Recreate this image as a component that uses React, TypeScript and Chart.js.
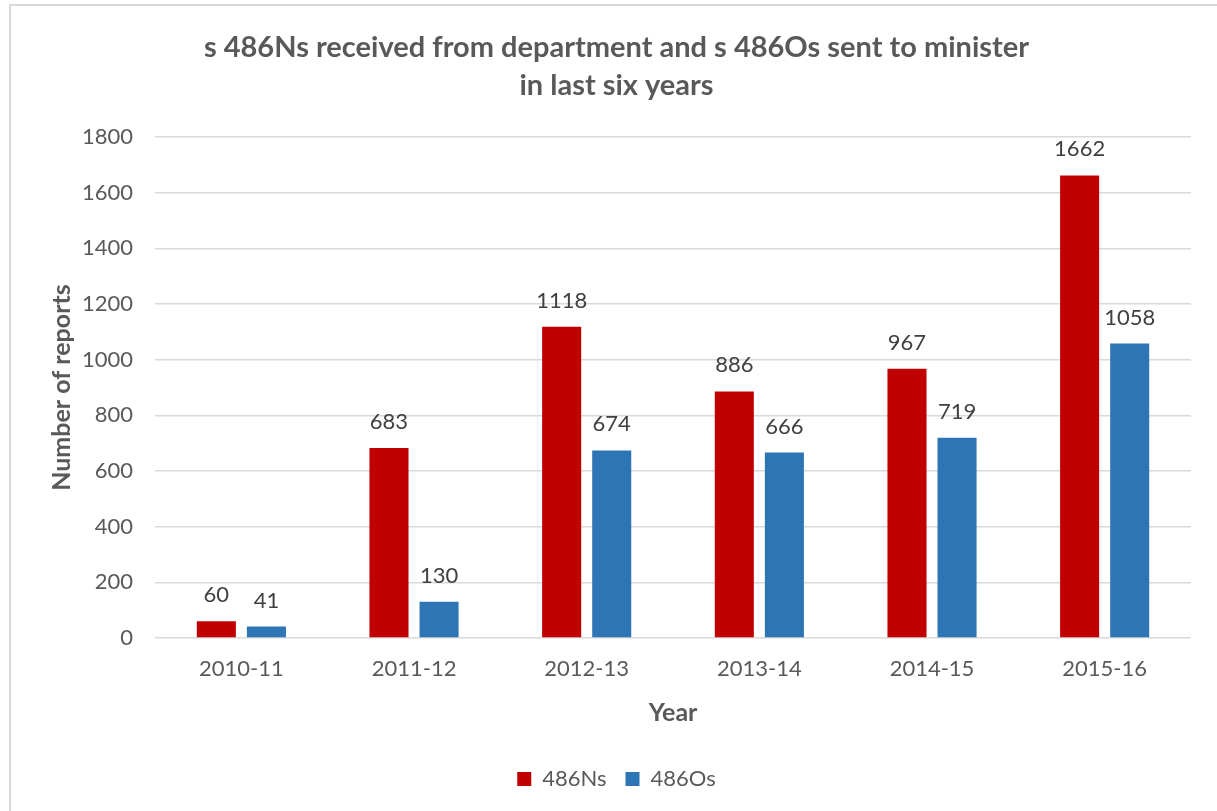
import React, { useEffect, useRef } from "react";
import { Chart, registerables } from "chart.js";

Chart.register(...registerables);

const categories = ["2010-11", "2011-12", "2012-13", "2013-14", "2014-15", "2015-16"];
const series486Ns = [60, 683, 1118, 886, 967, 1662];
const series486Os = [41, 130, 674, 666, 719, 1058];
const titleLines = ["s 486Ns received from department and s 486Os sent to minister", "in last six years"];

const FONT = "Lato, 'Open Sans', sans-serif";
const TEXT = "#595959";

const dataLabels = {
  id: "dataLabels",
  afterDatasetsDraw(chart: any) {
    const ctx = chart.ctx;
    ctx.save();
    ctx.font = `22px ${FONT}`;
    ctx.fillStyle = "#404040";
    ctx.textAlign = "center";
    ctx.textBaseline = "middle";
    chart.data.datasets.forEach((ds: any, i: number) => {
      const meta = chart.getDatasetMeta(i);
      meta.data.forEach((el: any, j: number) => {
        ctx.fillText(String(ds.data[j]), el.x, el.y - 26);
      });
    });
    ctx.restore();
  },
};

export default function App() {
  const ref = useRef<HTMLCanvasElement | null>(null);
  useEffect(() => {
    if (!ref.current) return;
    const chart = new Chart(ref.current, {
      type: "bar",
      data: {
        labels: categories,
        datasets: [
          { label: "486Ns", data: series486Ns, backgroundColor: "#C00000", categoryPercentage: 0.58, barPercentage: 0.78 },
          { label: "486Os", data: series486Os, backgroundColor: "#2E75B6", categoryPercentage: 0.58, barPercentage: 0.78 },
        ],
      },
      options: {
        responsive: false,
        animation: false,
        devicePixelRatio: 1,
        layout: { padding: { left: 31, right: 30, top: 0, bottom: 12 } },
        plugins: {
          title: {
            display: true,
            text: titleLines,
            color: TEXT,
            font: { family: FONT, size: 29, weight: "bold", lineHeight: 1.31 },
            padding: { top: 23, bottom: 32 },
          },
          legend: {
            position: "bottom",
            labels: {
              color: TEXT,
              font: { family: FONT, size: 22 },
              boxWidth: 14,
              boxHeight: 14,
              padding: 19,
            },
          },
          tooltip: { enabled: false },
        },
        scales: {
          x: {
            grid: { display: false, drawTicks: false },
            border: { display: false },
            ticks: { color: TEXT, font: { family: FONT, size: 22, lineHeight: 1 }, padding: 20 },
            title: { display: true, text: "Year", color: TEXT, font: { family: FONT, size: 25, weight: "bold", lineHeight: 1 }, padding: { top: 0, bottom: 24 } },
          },
          y: {
            min: 0,
            max: 1800,
            ticks: { stepSize: 200, color: TEXT, font: { family: FONT, size: 22 }, padding: 22, callback: (v: any) => String(v) },
            grid: { color: "#D9D9D9", lineWidth: 1.5, drawTicks: false },
            border: { display: false },
            title: { display: true, text: "Number of reports", color: TEXT, font: { family: FONT, size: 25, weight: "bold", lineHeight: 1 }, padding: { top: 7, bottom: -14 } },
          },
        },
      },
      plugins: [dataLabels],
    });
    return () => chart.destroy();
  }, []);

  return (
    <div style={{ position: "fixed", left: 0, top: 0, width: 1217, height: 811, overflow: "hidden", background: "#fff" }}>
      <div style={{ position: "absolute", left: 9, top: 4, width: 1300, height: 900, borderLeft: "2px solid #D9D9D9", borderTop: "2px solid #D9D9D9" }} />
      <canvas ref={ref} width={1210} height={806} style={{ position: "absolute", left: 11, top: 6 }} />
    </div>
  );
}
